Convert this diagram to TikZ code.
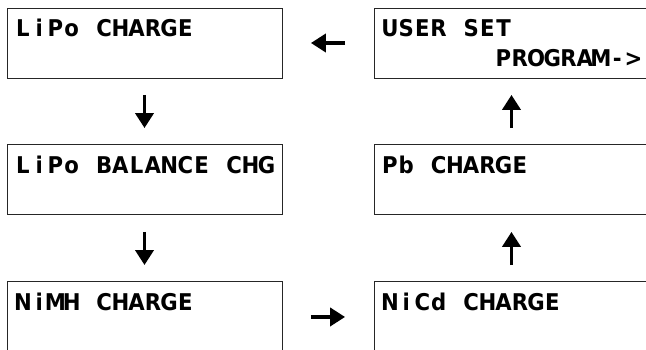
\documentclass[tikz,border=0pt]{standalone}
\usepackage{fontspec}
\newfontfamily\lcdfont{DejaVu Sans}[FakeStretch=0.92]
\newlength{\lcdcol}
\setlength{\lcdcol}{0.40625cm}
\ExplSyntaxOn
\NewDocumentCommand{\lcdline}{m}{\str_map_inline:nn{#1}{\makebox[\lcdcol][c]{##1}}}
\ExplSyntaxOff
\usetikzlibrary{positioning,arrows.meta}
\tikzset{
  screen/.style={draw=black!85, line width=0.7pt, minimum width=6.875cm, minimum height=1.75cm, inner sep=0pt},
  lcd/.style={font=\lcdfont\bfseries\fontsize{16.4}{18}\selectfont, inner sep=0pt, anchor=base west},
  nextarrow/.style={line width=2.8pt, -{Triangle[length=0.375cm,width=0.45cm]}},
}
\begin{document}
\begin{tikzpicture}
            \useasboundingbox (0,0) rectangle (16.15,-8.725);
            \node[screen] (lipo) at (3.6125,-1.075) {};
            \node[screen, below=1.65cm of lipo] (balance) {};
            \node[screen, below=1.65cm of balance] (nimh) {};
            \node[screen, right=2.275cm of nimh] (nicd) {};
            \node[screen, above=1.65cm of nicd] (pb) {};
            \node[screen, above=1.65cm of pb] (userset) {};

            \node[lcd] (lipotxt) at ([shift={(0.2,-0.725)}]lipo.north west) {\lcdline{LiPo CHARGE}};
            \node[lcd] (balancetxt) at ([shift={(0.2,-0.725)}]balance.north west) {\lcdline{LiPo BALANCE CHG}};
            \node[lcd] (nimhtxt) at ([shift={(0.2,-0.725)}]nimh.north west) {\lcdline{NiMH CHARGE}};
            \node[lcd] (nicdtxt) at ([shift={(0.2,-0.725)}]nicd.north west) {\lcdline{NiCd CHARGE}};
            \node[lcd] (pbtxt) at ([shift={(0.2,-0.725)}]pb.north west) {\lcdline{Pb CHARGE}};
            \node[lcd] (usersettxt) at ([shift={(0.2,-0.725)}]userset.north west) {\lcdline{USER SET}};
            \node[lcd] (programtxt) at ([shift={(3.04,-1.475)}]userset.north west) {\lcdline{PROGRAM->}};

            \draw [nextarrow, shorten <=0.41cm, shorten >=0.41cm] (lipo) -- (balance);
            \draw [nextarrow, shorten <=0.41cm, shorten >=0.41cm] (balance) -- (nimh);
            \draw [nextarrow, shorten <=0.71cm, shorten >=0.71cm] (nimh) -- (nicd);
            \draw [nextarrow, shorten <=0.41cm, shorten >=0.41cm] (nicd) -- (pb);
            \draw [nextarrow, shorten <=0.41cm, shorten >=0.41cm] (pb) -- (userset);
            \draw [nextarrow, shorten <=0.71cm, shorten >=0.71cm] (userset) -- (lipo);
        \end{tikzpicture}
\end{document}
